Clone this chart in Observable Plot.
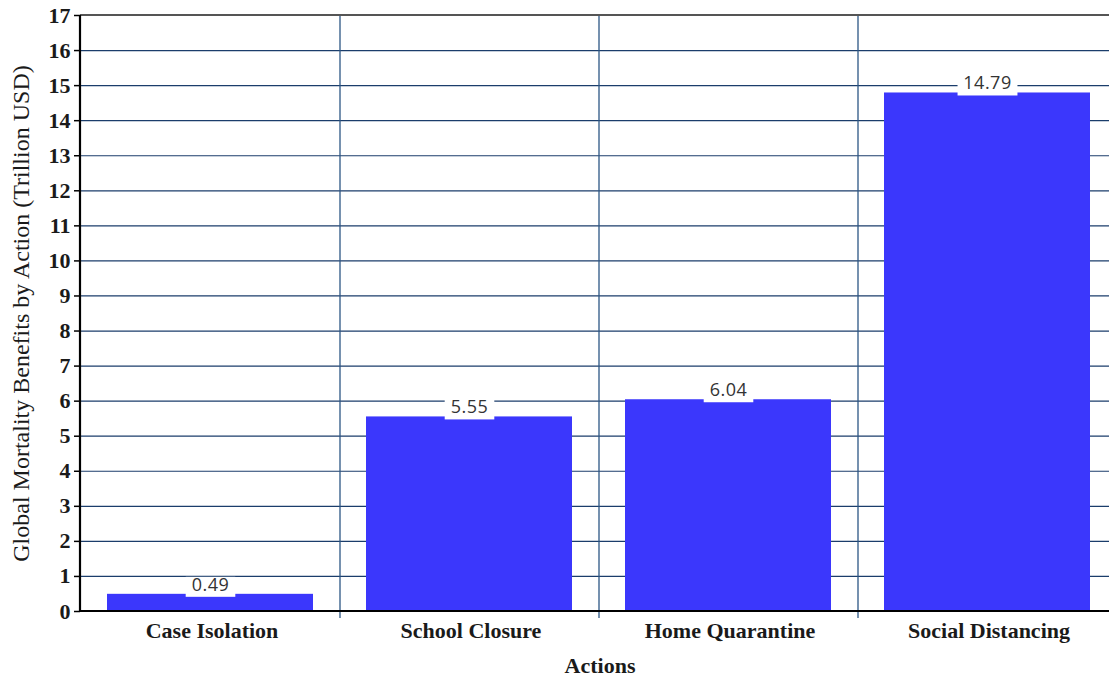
<!DOCTYPE html>
<html>
<head>
<meta charset="utf-8">
<script src="https://cdn.jsdelivr.net/npm/d3@7"></script>
<script src="https://cdn.jsdelivr.net/npm/@observablehq/plot@0.6"></script>
<style>
  html, body { margin: 0; padding: 0; background: #fff; overflow: hidden; }
  #chart { width: 1109px; height: 680px; overflow: hidden; }
  #chart svg { max-width: none !important; display: block; }
</style>
</head>
<body>
<div id="chart"></div>
<script>
const actions = ["Case Isolation", "School Closure", "Home Quarantine", "Social Distancing"];
const benefits = [0.49, 5.55, 6.04, 14.79];
const yTicks = d3.range(0, 18);
const yTitle = "Global Mortality Benefits by Action (Trillion USD)";
const xTitle = "Actions";

const data = actions.map((a, i) => ({action: a, value: benefits[i]}));

const serif = "'Liberation Serif', 'Times New Roman', serif";
const sans = "'Open Sans', 'DejaVu Sans', sans-serif";

function svgEl(tag, attrs) {
  const e = document.createElementNS("http://www.w3.org/2000/svg", tag);
  for (const k in attrs) e.setAttribute(k, attrs[k]);
  return e;
}
function bandwidthOf(s) {
  return typeof s.bandwidth === "function" ? s.bandwidth() : s.bandwidth;
}

// vertical separators between categories + ticks below the x axis
function separators(index, scales, values, dims) {
  const g = svgEl("g", {});
  const y0 = dims.marginTop, y1 = dims.height - dims.marginBottom;
  actions.slice(1).forEach(a => {
    const x = scales.x(a) - 1;
    g.appendChild(svgEl("line", {x1: x, x2: x, y1: y0, y2: y1 + 7, stroke: "#2c5684", "stroke-width": 1.3}));
  });
  return g;
}

// frame lines: left axis, bottom axis, top border
function frameLines(index, scales, values, dims) {
  const g = svgEl("g", {});
  const x0 = dims.marginLeft, x1 = dims.width - dims.marginRight;
  const y0 = dims.marginTop, y1 = dims.height - dims.marginBottom;
  g.appendChild(svgEl("line", {x1: x0, x2: x1, y1: y0, y2: y0, stroke: "#555", "stroke-width": 2}));
  g.appendChild(svgEl("line", {x1: x0, x2: x0, y1: y0, y2: y1, stroke: "#000", "stroke-width": 2.2}));
  g.appendChild(svgEl("line", {x1: x0, x2: x1, y1: y1, y2: y1, stroke: "#000", "stroke-width": 2.2}));
  return g;
}

// value labels with white background boxes
const ctx = document.createElement("canvas").getContext("2d");
ctx.font = "18px " + sans;
function valueLabels(index, scales, values, dims) {
  const g = svgEl("g", {});
  const bw = bandwidthOf(scales.x);
  data.forEach(d => {
    const cx = scales.x(d.action) + bw / 2 - 1;
    const yt = scales.y(d.value);
    const txt = d.value.toFixed(2);
    const w = ctx.measureText(txt).width + 14;
    g.appendChild(svgEl("rect", {x: cx - w / 2, y: yt - 17, width: w, height: 20, fill: "#fff"}));
    const t = svgEl("text", {x: cx, y: yt - 3, "text-anchor": "middle", "font-family": sans, "font-size": 18, fill: "#333", "letter-spacing": "0.5px"});
    t.textContent = txt;
    g.appendChild(t);
  });
  return g;
}

const chart = Plot.plot({
  width: 1119,
  height: 680,
  marginLeft: 80,
  marginRight: 0,
  marginTop: 15,
  marginBottom: 69,
  style: {fontFamily: serif, background: "#fff", maxWidth: "none"},
  x: {domain: actions, padding: 0, label: null},
  y: {domain: [0, 17], label: null},
  marks: [
    Plot.ruleY(yTicks.slice(1), {stroke: "#1b3d6b", strokeWidth: 1.2}),
    separators,
    Plot.barY(data, {x: "action", y: "value", fill: "#3b37fc", insetLeft: 25, insetRight: 28}),
    valueLabels,
    frameLines,
    Plot.axisY({ticks: yTicks, tickSize: 6, tickPadding: 4, fontSize: 22, fontWeight: "bold", fill: "#1a1a1a", stroke: null, label: null}),
    Plot.axisY({ticks: yTicks, tickSize: 6, text: null, stroke: "#000", strokeWidth: 1.5, label: null}),
    Plot.axisX({tickSize: 0, tickPadding: 11, fontSize: 22, fontWeight: "bold", fill: "#1a1a1a", label: null}),
    Plot.text([yTitle], {frameAnchor: "left", textAnchor: "middle", lineAnchor: "middle", rotate: -90, dx: -59, fontSize: 24, fill: "#1a1a1a", fontFamily: serif}),
    Plot.text([xTitle], {frameAnchor: "bottom", textAnchor: "middle", lineAnchor: "middle", dy: 54, fontSize: 22, fontWeight: "bold", fill: "#1a1a1a", fontFamily: serif})
  ]
});

document.getElementById("chart").appendChild(chart);
</script>
</body>
</html>
